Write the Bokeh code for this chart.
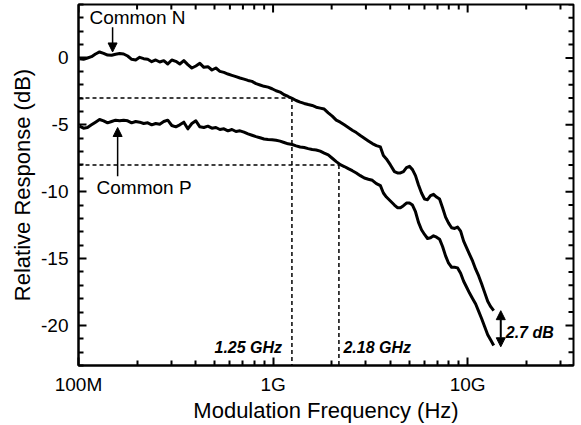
import math
from bokeh.plotting import figure
from bokeh.models import (FixedTicker, Arrow, NormalHead, ColumnDataSource, Range1d)
from bokeh.core.properties import value
from bokeh.embed import file_html
from bokeh.resources import INLINE

# ---------------- data ----------------
freq_ghz = [0.1012, 0.1061, 0.1112, 0.1166, 0.1223, 0.1283, 0.1346, 0.1411, 0.1480, 0.1551,
            0.1627, 0.1706, 0.1789, 0.1876, 0.1967, 0.2063, 0.2163, 0.2269, 0.2379, 0.2494,
            0.2615, 0.2743, 0.2876, 0.3016, 0.3163, 0.3316, 0.3478, 0.3646, 0.3824, 0.4010,
            0.4205, 0.4409, 0.4624, 0.4849, 0.5083, 0.5330, 0.5589, 0.5861, 0.6146, 0.6445,
            0.6758, 0.7087, 0.7432, 0.7793, 0.8171, 0.8570, 0.8987, 0.9424, 0.9882, 1.0362,
            1.0866, 1.1395, 1.1949, 1.2530, 1.3139, 1.3778, 1.4449, 1.5151, 1.5886, 1.6659,
            1.7469, 1.8319, 1.9210, 2.0143, 2.1121, 2.2150, 2.3227, 2.4357, 2.5540, 2.6781,
            2.8085, 2.9451, 3.0882, 3.2382, 3.3955, 3.5608, 3.6900, 3.8236, 4.0096, 4.2048,
            4.3569, 4.5149, 4.6785, 4.8480, 5.0240, 5.2059, 5.3948, 5.5907, 5.7927, 6.0031,
            6.2204, 6.4460, 6.6800, 6.9218, 7.1730, 7.4326, 7.7022, 7.9816, 8.2704, 8.5708,
            8.8809, 9.2031, 9.5371, 9.8820, 10.241, 10.612, 10.996, 11.396, 11.808, 12.236,
            12.679, 13.139, 13.615]

common_n_db = [-0.05, -0.1, 0.0, 0.1, 0.3, 0.45, 0.35, 0.22, 0.2, 0.28,
               0.33, 0.3, 0.15, -0.1, -0.15, 0.05, -0.05, -0.1, -0.28, -0.15,
               -0.3, -0.2, -0.45, -0.15, -0.25, -0.45, -0.2, -0.5, -0.75, -0.6,
               -0.4, -0.7, -0.65, -0.9, -0.75, -1.0, -1.08, -1.2, -1.3, -1.4,
               -1.5, -1.58, -1.68, -1.75, -1.92, -2.02, -2.12, -2.18, -2.3, -2.45,
               -2.55, -2.75, -2.88, -3.02, -3.18, -3.3, -3.4, -3.48, -3.55, -3.68,
               -3.75, -3.82, -4.1, -4.35, -4.65, -4.8, -5.0, -5.2, -5.4, -5.58,
               -5.8, -6.0, -6.2, -6.4, -6.55, -6.65, -7.3, -7.55, -8.0, -8.5,
               -8.6, -8.6, -8.5, -8.2, -8.1, -8.35, -8.8, -9.5, -10.1, -10.55,
               -10.6, -10.3, -10.2, -10.4, -10.55, -11.2, -11.9, -12.35, -12.7, -12.75,
               -12.65, -12.95, -13.7, -14.2, -14.7, -15.2, -15.8, -16.3, -16.9, -17.55,
               -18.2, -18.6, -18.9]

common_p_db = [-5.1, -5.25, -5.2, -5.0, -4.8, -4.6, -4.7, -4.85, -4.75, -4.65,
               -4.7, -4.65, -4.7, -4.85, -4.75, -4.8, -4.9, -4.85, -5.0, -4.9,
               -4.95, -4.75, -4.65, -5.05, -5.15, -5.0, -4.8, -5.3, -4.9, -4.7,
               -5.15, -5.2, -5.1, -5.25, -5.2, -5.35, -5.3, -5.45, -5.35, -5.5,
               -5.45, -5.55, -5.68, -5.78, -5.88, -5.97, -6.06, -6.1, -6.12, -6.16,
               -6.22, -6.32, -6.42, -6.47, -6.57, -6.66, -6.7, -6.78, -6.85, -6.88,
               -6.97, -7.12, -7.25, -7.5, -7.75, -7.98, -8.12, -8.28, -8.43, -8.6,
               -8.8, -8.98, -9.07, -9.15, -9.4, -9.55, -10.1, -10.4, -10.7, -11.0,
               -11.2, -11.2, -11.05, -10.85, -10.85, -11.0, -11.5, -12.3, -12.85, -13.2,
               -13.5, -13.45, -13.3, -13.4, -13.55, -14.1, -14.8, -15.35, -15.65, -15.65,
               -15.7, -16.1, -16.7, -17.15, -17.6, -18.0, -18.4, -18.95, -19.5, -20.1,
               -20.7, -21.1, -21.5]

x_ticks_hz = [1e8, 1e9, 1e10]
x_tick_labels = ["100M", "1G", "10G"]
x_minor_hz = [2e8, 3e8, 4e8, 5e8, 6e8, 7e8, 8e8, 9e8,
              2e9, 3e9, 4e9, 5e9, 6e9, 7e9, 8e9, 9e9,
              2e10, 3e10]
y_ticks = [-20, -15, -10, -5, 0]
y_tick_labels = ["-20", "-15", "-10", "-5", "0"]
y_minor = [-23, -22, -21, -19, -18, -17, -16, -14, -13, -12, -11, -9, -8, -7, -6,
           -4, -3, -2, -1, 1, 2, 3, 4]

x_lo, x_hi = 1e8, 3.5e10
y_lo, y_hi = -23, 4

# 3-dB bandwidth markers
bw_n_ghz, bw_n_level = 1.25, -3
bw_p_ghz, bw_p_level = 2.18, -8
bw_n_label, bw_p_label = "1.25 GHz", "2.18 GHz"
bw_label_y = -21.64
bw_n_label_x_ghz = 1.113   # right edge of "1.25 GHz"
bw_p_label_x_ghz = 2.30    # left edge of "2.18 GHz"

# annotations
label_n, label_n_x_ghz, label_n_y = "Common N", 0.1139, 3.05
arrow_n_x_ghz, arrow_n_y0, arrow_n_y1 = 0.1497, 2.3, 0.45
label_p, label_p_x_ghz, label_p_y = "Common P", 0.1238, -9.7
arrow_p_x_ghz, arrow_p_y0, arrow_p_y1 = 0.1589, -8.85, -5.2
gap_label, gap_label_x_ghz, gap_label_y = "2.7 dB", 15.7, -20.52
gap_x_ghz, gap_y_top, gap_y_bot = 14.8, -18.9, -21.6

FONT = "Liberation Sans"

# ---------------- layout (pixels) ----------------
W, H = 581, 425
BL, BR, BT, BB = 78, 8, 4, 59          # borders around the frame
frame_w, frame_h = W - BL - BR, H - BT - BB
MAJOR_PX, MINOR_PX = 8, 5
TICK_W = 2

p = figure(width=W, height=H, x_axis_type="log",
           x_range=Range1d(x_lo, x_hi), y_range=Range1d(y_lo, y_hi),
           output_backend="svg", toolbar_location=None,
           min_border_left=BL, min_border_right=BR, min_border_top=BT, min_border_bottom=BB)
p.xgrid.visible = False
p.ygrid.visible = False
p.outline_line_color = "black"
p.outline_line_width = 2
p.background_fill_color = "white"
p.border_fill_color = "white"

src = ColumnDataSource(dict(f=[v * 1e9 for v in freq_ghz], n=common_n_db, p=common_p_db))

# dashed guide lines
dash = dict(line_color="black", line_width=1.5, line_dash="4 3")
p.line([x_lo, bw_n_ghz * 1e9], [bw_n_level, bw_n_level], **dash)
p.line([bw_n_ghz * 1e9, bw_n_ghz * 1e9], [bw_n_level, y_lo], **dash)
p.line([x_lo, bw_p_ghz * 1e9], [bw_p_level, bw_p_level], **dash)
p.line([bw_p_ghz * 1e9, bw_p_ghz * 1e9], [bw_p_level, y_lo], **dash)

# curves
p.line("f", "n", source=src, line_color="black", line_width=3, line_join="round")
p.line("f", "p", source=src, line_color="black", line_width=3, line_join="round")

# mirrored inward ticks on the top and right edges (inside the frame)
decades = math.log10(x_hi / x_lo)
def xfac(px):
    return 10 ** (px * decades / frame_w)
def ylen(px):
    return px * (y_hi - y_lo) / frame_h

tick_xs, tick_ys = [], []
for ticks, px in ((y_ticks, MAJOR_PX), (y_minor, MINOR_PX)):
    for t in ticks:
        tick_xs.append([x_hi, x_hi / xfac(px)]); tick_ys.append([t, t])
for ticks, px in ((x_ticks_hz, MAJOR_PX), (x_minor_hz, MINOR_PX)):
    for t in ticks:
        tick_xs.append([t, t]); tick_ys.append([y_hi, y_hi - ylen(px)])
p.multi_line(xs=tick_xs, ys=tick_ys, line_color="black", line_width=TICK_W)

# arrows
head = dict(size=9, fill_color="black", line_color="black")
p.add_layout(Arrow(end=NormalHead(**head),
                   x_start=arrow_n_x_ghz * 1e9, y_start=arrow_n_y0,
                   x_end=arrow_n_x_ghz * 1e9, y_end=arrow_n_y1,
                   line_color="black", line_width=1.5))
p.add_layout(Arrow(end=NormalHead(**head),
                   x_start=arrow_p_x_ghz * 1e9, y_start=arrow_p_y0,
                   x_end=arrow_p_x_ghz * 1e9, y_end=arrow_p_y1,
                   line_color="black", line_width=1.5))
p.add_layout(Arrow(start=NormalHead(**head), end=NormalHead(**head),
                   x_start=gap_x_ghz * 1e9, y_start=gap_y_top,
                   x_end=gap_x_ghz * 1e9, y_end=gap_y_bot,
                   line_color="black", line_width=2))

# texts
p.text(x=[label_n_x_ghz * 1e9], y=[label_n_y], text=[label_n],
       text_font=value(FONT), text_font_size="19px", text_baseline="middle",
       text_align="left", text_color="black")
p.text(x=[label_p_x_ghz * 1e9], y=[label_p_y], text=[label_p],
       text_font=value(FONT), text_font_size="19px", text_baseline="middle",
       text_align="left", text_color="black")
p.text(x=[bw_n_label_x_ghz * 1e9], y=[bw_label_y], text=[bw_n_label],
       text_font=value(FONT), text_font_size="16px", text_font_style="bold italic",
       text_baseline="middle", text_align="right", text_color="black")
p.text(x=[bw_p_label_x_ghz * 1e9], y=[bw_label_y], text=[bw_p_label],
       text_font=value(FONT), text_font_size="16px", text_font_style="bold italic",
       text_baseline="middle", text_align="left", text_color="black")
p.text(x=[gap_label_x_ghz * 1e9], y=[gap_label_y], text=[gap_label],
       text_font=value(FONT), text_font_size="16px", text_font_style="bold italic",
       text_baseline="middle", text_align="left", text_color="black")

# ---------------- axes ----------------
def style(ax):
    ax.axis_line_width = 2
    ax.axis_line_color = "black"
    ax.major_tick_in = MAJOR_PX
    ax.major_tick_out = 0
    ax.minor_tick_in = MINOR_PX
    ax.minor_tick_out = 0
    ax.major_tick_line_width = TICK_W
    ax.minor_tick_line_width = TICK_W
    ax.major_tick_line_color = "black"
    ax.minor_tick_line_color = "black"
    ax.major_label_text_font = FONT
    ax.major_label_text_font_size = "19px"
    ax.major_label_text_color = "black"
    ax.axis_label_text_font = FONT
    ax.axis_label_text_font_size = "22px"
    ax.axis_label_text_font_style = "normal"
    ax.axis_label_text_color = "black"

xa = p.xaxis[0]
xa.ticker = FixedTicker(ticks=x_ticks_hz, minor_ticks=x_minor_hz)
xa.major_label_overrides = {t: s for t, s in zip(x_ticks_hz, x_tick_labels)}
xa.axis_label = "Modulation Frequency (Hz)"
style(xa)
xa.major_label_standoff = 8
xa.axis_label_standoff = 0

ya = p.yaxis[0]
ya.ticker = FixedTicker(ticks=y_ticks, minor_ticks=y_minor)
ya.major_label_overrides = {t: s for t, s in zip(y_ticks, y_tick_labels)}
ya.axis_label = "Relative Response (dB)"
style(ya)
ya.major_label_standoff = 10
ya.axis_label_standoff = 3

open("out.html", "w").write(file_html(p, INLINE))
